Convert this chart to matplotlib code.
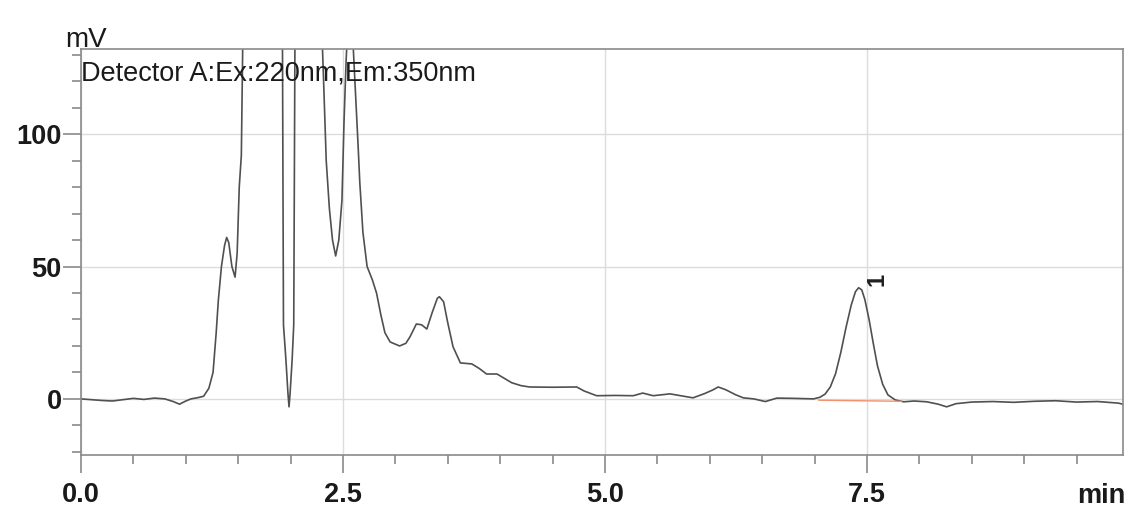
import matplotlib
matplotlib.use('Agg')
import matplotlib.pyplot as plt
from matplotlib.ticker import MultipleLocator, FixedLocator

# chromatogram trace (min, mV); the big peaks go off scale
time_min = [0.00, 0.10, 0.20, 0.30, 0.40, 0.50, 0.60, 0.70, 0.80, 0.88, 0.94, 1.00, 1.05, 1.12,
            1.17, 1.22, 1.26, 1.29, 1.31, 1.34, 1.37, 1.39, 1.41, 1.44, 1.47, 1.49, 1.51, 1.53,
            1.545, 1.60, 1.75, 1.88, 1.922, 1.932, 1.955, 1.975, 1.985, 1.995, 2.015, 2.03,
            2.042, 2.15, 2.28, 2.315, 2.34, 2.37, 2.40, 2.43, 2.46, 2.49, 2.51, 2.53, 2.545,
            2.57, 2.595, 2.62, 2.645, 2.66, 2.69, 2.73, 2.78, 2.82, 2.86, 2.90, 2.95, 3.04,
            3.10, 3.14, 3.20, 3.25, 3.30, 3.35, 3.40, 3.42, 3.46, 3.50, 3.55, 3.62, 3.73, 3.80,
            3.87, 3.97, 4.05, 4.11, 4.20, 4.28, 4.50, 4.73, 4.80, 4.92, 5.10, 5.27, 5.36, 5.46,
            5.55, 5.62, 5.72, 5.84, 5.95, 6.03, 6.08, 6.15, 6.25, 6.32, 6.42, 6.53, 6.64, 6.80,
            6.99, 7.05, 7.10, 7.15, 7.20, 7.25, 7.30, 7.35, 7.39, 7.42, 7.45, 7.48, 7.52, 7.56,
            7.60, 7.65, 7.70, 7.77, 7.85, 7.95,
            8.07, 8.18, 8.26, 8.35, 8.50, 8.70, 8.90, 9.10, 9.30, 9.50, 9.70, 9.90, 9.94]
signal_mv = [0.0, -0.3, -0.6, -0.8, -0.3, 0.2, -0.2, 0.3, 0.0, -1.0, -2.0, -0.8, 0.0, 0.5,
             1.0, 4.0, 10, 25, 37, 50, 58, 61, 59, 50, 46, 55, 80, 92,
             140, 300, 450, 300, 140, 28, 15, 2, -3, 2, 15, 28,
             140, 300, 160, 120, 90, 72, 60, 54, 60, 75, 105, 128, 140,
             170, 135, 115, 95, 82, 63, 50, 45, 40, 32, 25, 21.5, 20,
             21, 23.5, 28.3, 28, 26.4, 32.5, 38, 38.6, 36.7, 28.7, 19.7, 13.6, 13.2, 11.5,
             9.4, 9.4, 7.5, 6.1, 5.0, 4.5, 4.4, 4.5, 3.0, 1.2, 1.3, 1.2, 2.2, 1.2,
             1.6, 1.9, 1.2, 0.4, 2.0, 3.4, 4.5, 3.5, 1.5, 0.4, 0.0, -1.0, 0.3, 0.2,
             0.0, 0.6, 1.8, 4.5, 9.5, 17.5, 27, 35.5, 40.5, 42, 41.2, 37.5, 30, 21,
             12.5, 5.5, 1.5, -0.4, -1.1, -0.8,
             -1.1, -2, -3, -1.8, -1.2, -1.0, -1.3, -0.9, -0.7, -1.2, -1.0, -1.6, -2.0]

# integration baseline of peak 1
base_t = [7.04, 7.83]
base_mv = [-0.5, -0.9]
peak_label = '1'
peak_pos = (7.60, 45)

x_ticks = [0.0, 2.5, 5.0, 7.5]
x_labels = ['0.0', '2.5', '5.0', '7.5']
y_ticks = [0, 50, 100]

font = ['Liberation Sans', 'DejaVu Sans']
plt.rcParams['font.family'] = font

fig = plt.figure(figsize=(11.26, 5.08), dpi=100)
ax = fig.add_axes([81/1126, 53/508, 1042/1126, 406/508])

ax.plot(time_min, signal_mv, color='#505050', lw=1.2, clip_on=True)
ax.plot(base_t, base_mv, color='#f4906c', lw=1.0)
ax.text(peak_pos[0], peak_pos[1], peak_label, rotation=90, fontsize=17,
        fontweight='bold', ha='center', va='center', color='#202020')

ax.set_xlim(0, 9.943)
ax.set_ylim(-21.2, 132.2)

ax.xaxis.set_major_locator(FixedLocator(x_ticks))
ax.set_xticklabels(x_labels)
ax.xaxis.set_minor_locator(MultipleLocator(0.5))
ax.yaxis.set_major_locator(FixedLocator(y_ticks))
ax.yaxis.set_minor_locator(MultipleLocator(10))

ax.grid(True, which='major', color='#dcdcdc', lw=1.0)
ax.set_axisbelow(True)

for s in ax.spines.values():
    s.set_color('#8a8a8a')
    s.set_linewidth(1.2)

ax.tick_params(which='major', length=13, width=1.2, color='#8a8a8a')
ax.tick_params(which='minor', length=6.5, width=1.2, color='#8a8a8a')
ax.tick_params(axis='x', which='major', pad=6.5)
ax.tick_params(axis='y', which='major', pad=1)
for lab in ax.get_xticklabels() + ax.get_yticklabels():
    lab.set_fontsize(19.5)
    lab.set_fontweight('bold')
    lab.set_color('#1a1a1a')

fig.text(81/1126, (508-80)/508, 'Detector A:Ex:220nm,Em:350nm', fontsize=19.5,
         ha='left', va='baseline', color='#1a1a1a')
fig.text(65/1126, (508-47)/508, 'mV', fontsize=20, ha='left', va='baseline', color='#1a1a1a')
fig.text(1125/1126, 5/508, 'min', fontsize=19.5, fontweight='bold', ha='right',
         va='baseline', color='#1a1a1a')

fig.savefig('out.png', dpi=100, facecolor='white')
